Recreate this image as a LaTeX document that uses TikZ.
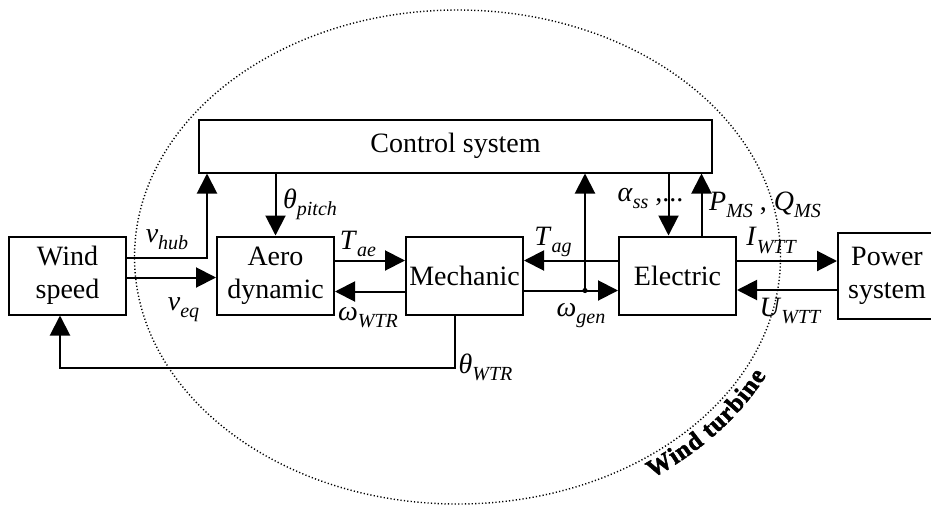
\documentclass[tikz,border=0pt]{standalone}
\usepackage{fontspec}
\setmainfont{Liberation Serif}
\newfontfamily\turbfont[FakeBold=2]{Liberation Serif}
\usetikzlibrary{positioning, arrows.meta, decorations.text}
\newcommand{\symb}[2]{\textit{#1}\raisebox{-0.55ex}{\fontsize{10}{10}\selectfont\itshape #2}}

\begin{document}
\begin{tikzpicture}[
    font=\fontsize{14}{16.5}\selectfont,
    block/.style={draw, line width=1pt, align=center, minimum width=58.5pt,
                  minimum height=39pt, inner sep=1pt, fill=white},
    arr/.style={-{Triangle[length=10pt, width=10pt]}, line width=1pt},
    turbine/.style={line width=0.7pt, dash pattern=on 0.6pt off 1.1pt},
  ]
    \useasboundingbox (0,0) rectangle (465.5pt,-257pt);
    \node[block] (wind) at (33.75pt,-137.75pt) {Wind\\speed};
    \node[block, right=44.5pt of wind] (aero) {Aero\\dynamic};
    \node[block, right=35pt of aero] (mech) {Mechanic};
    \node[block, right=47pt of mech] (elec) {Electric};
    \node[block, minimum width=49pt, minimum height=43pt, right=50pt of elec] (power) {Power\\system};
    \node[block, minimum width=256.5pt, minimum height=26.5pt, anchor=south west,
          above right=31pt and -9pt of aero.north west] (ctrl) {Control system};

    % wind turbine boundary
    \coordinate (ec) at ([xshift=1pt, yshift=-55.5pt]ctrl.center);
    \draw[turbine] (ec) ellipse [x radius=161.5pt, y radius=123.5pt];
    \path[decorate, decoration={text along path, text align=center, raise=-10.5pt,
          text={|\turbfont\bfseries\fontsize{12.5}{12.5}\selectfont|Wind turbine}}]
      ([shift={(-69:161.5pt and 123.5pt)}]ec) arc [start angle=-69, end angle=-9,
                                                   x radius=161.5pt, y radius=123.5pt];

    % wind
    \draw[arr] ([yshift=9pt]wind.east) -| node[above, pos=0.25]{\symb{v}{hub}} ([xshift=4.5pt]ctrl.south west);
    \draw[arr] ([yshift=-1pt]wind.east) -- node[below, xshift=6pt, yshift=-6pt]{\symb{v}{eq}} ([yshift=-1pt]aero.west);
    \draw[arr] (ctrl.south -| aero.north) -- node[right]{\symb{θ}{pitch}} (aero.north);

    % drive train
    \draw[arr] ([yshift=7.5pt]aero.east) -- node[above, xshift=-6pt, yshift=-2pt]{\symb{T}{ae}} ([yshift=7.5pt]mech.west);
    \draw[arr] ([yshift=-8pt]mech.west) -- node[below, xshift=-1pt, yshift=-4pt]{\symb{ω}{WTR}} ([yshift=-8pt]aero.east);
    \draw[arr] ([yshift=7.5pt]elec.west) -- node[above, xshift=-9pt, yshift=-2pt]{\symb{T}{ag}} ([yshift=7.5pt]mech.east);
    \coordinate (wgen) at ([xshift=30.5pt, yshift=-7.5pt]mech.east);
    \draw[arr] ([yshift=-7.5pt]mech.east) -- ([yshift=-7.5pt]elec.west);
    \fill (wgen) circle (1.3pt);
    \node[below=3pt of wgen, xshift=-2pt] (wgenlbl) {\symb{ω}{gen}};
    \draw[arr] (wgen) -- (wgen |- ctrl.south);

    % electric
    \draw[arr] ([xshift=-4.5pt]elec.north |- ctrl.south) -- node[xshift=-9pt, yshift=3pt]{\symb{α}{ss} ,...} ([xshift=-4.5pt]elec.north);
    \draw[arr] ([xshift=12pt]elec.north) -- node[right]{\symb{P}{MS} , \symb{Q}{MS}} ([xshift=12pt]elec.north |- ctrl.south);
    \draw[arr] ([yshift=7.25pt]elec.east) -- node[above, xshift=-8pt]{\symb{I}{WTT}} ([yshift=7.25pt]power.west);
    \draw[arr] ([yshift=-7.25pt]power.west) -- node[below, xshift=1.5pt]{\symb{U}{WTT}} ([yshift=-7.25pt]elec.east);

    % feedback
    \coordinate (fb) at ([xshift=-4.75pt, yshift=-26pt]mech.south);
    \draw[arr] ([xshift=-4.75pt]mech.south) -- (fb) node[right, xshift=-2pt]{\symb{θ}{WTR}} -| ([xshift=-3.75pt]wind.south);
\end{tikzpicture}
\end{document}
